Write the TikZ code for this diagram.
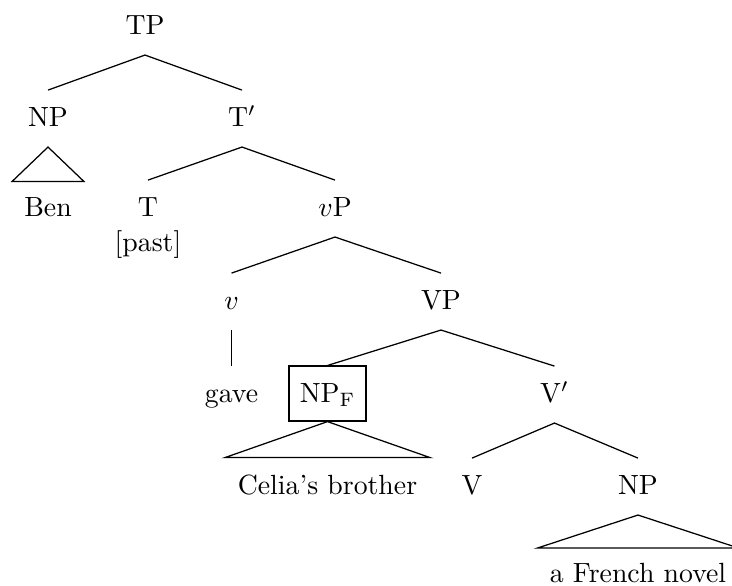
\documentclass[tikz,border=0pt]{standalone}
\usetikzlibrary{calc}
\begin{document}
\begin{tikzpicture}[x=0.36pt,y=-0.36pt,
  lbl/.style={anchor=base, inner sep=0pt},
  branch/.style={line width=0.45pt},
  boxed/.style={draw, anchor=base, inner ysep=0pt, text height=13.1pt, text depth=6.66pt, minimum width=27.7pt, line width=0.45pt}]
\useasboundingbox (0,0) rectangle (732,586);
% nodes
\node[lbl] (TP) at (145,34.5) {TP};
\node[lbl] (NP1) at (48,126.5) {NP};
\node[lbl] (Tb) at (242,126.5) {T$'$};
\node[lbl] (Ben) at (48,216.5) {Ben};
\node[lbl] (T) at (148,216.5) {T};
\node[lbl] (past) at (148,252) {[past]};
\node[lbl] (vP) at (335,216.5) {$v$P};
\node[lbl] (v) at (231.5,309.5) {$v$};
\node[lbl] (VP) at (441,309.5) {VP};
\node[lbl] (gave) at (231.5,402.5) {gave};
\node[boxed] (NPF) at (327.5,402.5) {NP$_{\mathrm{F}}$};
\node[lbl] (Vb) at (554.5,402.5) {V$'$};
\node[lbl] (Celia) at (327.5,494.5) {Celia's brother};
\node[lbl] (V) at (472,494.5) {V};
\node[lbl] (NP2) at (638,494.5) {NP};
\node[lbl] (nov) at (638,583) {a French novel};
% branches
\draw[branch] ([yshift=13.1pt]NP1.base) -- ([yshift=-7.4pt]TP.base) -- ([yshift=13.1pt]Tb.base);
\draw[branch] ([yshift=13.1pt]T.base) -- ([yshift=-7.4pt]Tb.base) -- ([yshift=13.1pt]vP.base);
\draw[branch] ([yshift=13.1pt]v.base) -- ([yshift=-7.4pt]vP.base) -- ([yshift=13.1pt]VP.base);
\draw[branch] (NPF.north) -- ([yshift=-7.4pt]VP.base) -- ([yshift=13.1pt]Vb.base);
\draw[branch] ([yshift=13.1pt]V.base) -- ([yshift=-7.4pt]Vb.base) -- ([yshift=13.1pt]NP2.base);
\draw[branch] ([yshift=-7.4pt]v.base) -- ([yshift=13.1pt]gave.base);
% roofs
\draw[branch] ([yshift=-7.4pt]NP1.base) -- ([xshift=-4.2pt,yshift=12.6pt]Ben.base west) -- ([xshift=4.2pt,yshift=12.6pt]Ben.base east) -- cycle;
\draw[branch] (NPF.south) -- ([xshift=-4.4pt,yshift=13.3pt]Celia.base west) -- ([xshift=4.4pt,yshift=13.3pt]Celia.base east) -- cycle;
\draw[branch] ([yshift=-7.4pt]NP2.base) -- ([xshift=-4.2pt,yshift=12.6pt]nov.base west) -- ([xshift=4.2pt,yshift=12.6pt]nov.base east) -- cycle;
\end{tikzpicture}
\end{document}
